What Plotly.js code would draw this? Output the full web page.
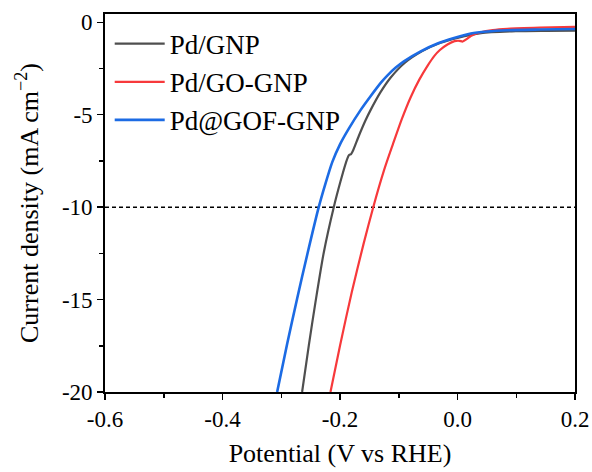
<!DOCTYPE html>
<html>
<head>
<meta charset="utf-8">
<script src="https://cdn.plot.ly/plotly-3.0.1.min.js"></script>
<style>html,body{margin:0;padding:0;background:#fff;}#chart{width:592px;height:472px;}</style>
</head>
<body>
<div id="chart"></div>
<script>
// Pd/GNP
var gnpX = [-0.2645, -0.2532, -0.2418, -0.2276, -0.2106, -0.1991, -0.19, -0.185, -0.181, -0.178, -0.168, -0.1565, -0.148, -0.131, -0.114, -0.09, -0.06, -0.03, 0.0, 0.04, 0.1, 0.15, 0.2];
var gnpY = [-20, -17.5, -15.15, -12.45, -10.0, -8.6, -7.6, -7.2, -7.12, -6.95, -6.15, -5.3, -4.75, -3.78, -3.0, -2.2, -1.56, -1.12, -0.84, -0.58, -0.48, -0.46, -0.45];
// Pd/GO-GNP
var goX = [-0.2162, -0.2, -0.18, -0.16, -0.1434, -0.125, -0.11, -0.095, -0.0797, -0.065, -0.05, -0.04, -0.03, -0.0171, -0.005, 0.003, 0.009, 0.016, 0.0226, 0.0397, 0.06, 0.085, 0.14, 0.2];
var goY = [-20, -17.5, -14.6, -12.0, -10.0, -8.0, -6.6, -5.25, -4.05, -3.1, -2.3, -1.84, -1.5, -1.2, -1.02, -1.0, -1.04, -0.9, -0.74, -0.54, -0.42, -0.35, -0.29, -0.25];
// Pd@GOF-GNP
var gofX = [-0.307, -0.29, -0.273, -0.256, -0.2362, -0.225, -0.213, -0.2, -0.185, -0.165, -0.148, -0.13, -0.1195, -0.105, -0.0912, -0.0627, -0.034, -0.0059, 0.0226, 0.05, 0.085, 0.14, 0.2];
var gofY = [-20, -17.4, -14.95, -12.6, -10.0, -8.75, -7.55, -6.6, -5.75, -4.75, -4.0, -3.25, -2.88, -2.45, -2.11, -1.57, -1.15, -0.85, -0.61, -0.5, -0.43, -0.39, -0.36];
// reference line at -10 mA cm-2
var refX = [-0.6, 0.2];
var refY = [-10, -10];

var seriesNames = ["Pd/GNP", "Pd/GO-GNP", "Pd@GOF-GNP"];
var xTickVals = [-0.6, -0.4, -0.2, 0.0, 0.2];
var xTickText = ["-0.6", "-0.4", "-0.2", "0.0", "0.2"];
var yTickVals = [0, -5, -10, -15, -20];
var yTickText = ["0", "-5", "-10", "-15", "-20"];

var font = "'Liberation Serif', 'Times New Roman', serif";

var traces = [
  {x: refX, y: refY, mode: "lines", showlegend: false, hoverinfo: "skip",
   line: {color: "#000", width: 1.5, dash: "4px,3px"}},
  {x: gnpX, y: gnpY, name: seriesNames[0], mode: "lines",
   line: {color: "#4f4f4f", width: 2.2, shape: "spline", smoothing: 0.7}},
  {x: goX, y: goY, name: seriesNames[1], mode: "lines",
   line: {color: "#f7393b", width: 2.2, shape: "spline", smoothing: 0.7}},
  {x: gofX, y: gofY, name: seriesNames[2], mode: "lines",
   line: {color: "#1c6be4", width: 2.6, shape: "spline", smoothing: 0.7}}
];

var layout = {
  width: 592, height: 472,
  margin: {l: 105, r: 17, t: 14, b: 80},
  paper_bgcolor: "#fff", plot_bgcolor: "#fff",
  font: {family: font, color: "#000", size: 22},
  showlegend: true,
  legend: {x: 0.01, y: 0.985, xanchor: "left", yanchor: "top",
           bgcolor: "rgba(0,0,0,0)", font: {family: font, size: 27, color: "#000"},
           tracegroupgap: 0, itemwidth: 50},
  xaxis: {
    range: [-0.6, 0.2], tickmode: "array", tickvals: xTickVals, ticktext: xTickText,
    ticks: "outside", ticklen: 6, tickwidth: 1.5, tickcolor: "#000",
    showline: true, linecolor: "#000", linewidth: 1.8, mirror: true,
    showgrid: false, zeroline: false,
    tickfont: {family: font, size: 23, color: "#000"},
    minor: {tickmode: "linear", tick0: -0.6, dtick: 0.1, ticks: "outside", ticklen: 4, tickwidth: 1.5, tickcolor: "#000", showgrid: false},
    title: {text: "Potential (V vs RHE)", font: {family: font, size: 26, color: "#000"}, standoff: 12}
  },
  yaxis: {
    range: [-20, 0.45], tickmode: "array", tickvals: yTickVals, ticktext: yTickText,
    ticks: "outside", ticklen: 6, tickwidth: 1.5, tickcolor: "#000",
    showline: true, linecolor: "#000", linewidth: 1.8, mirror: true,
    showgrid: false, zeroline: false,
    tickfont: {family: font, size: 23, color: "#000"},
    minor: {tickmode: "linear", tick0: 0, dtick: 2.5, ticks: "outside", ticklen: 4, tickwidth: 1.5, tickcolor: "#000", showgrid: false},
    title: {text: "Current density (mA cm<sup>\u22122</sup>)", font: {family: font, size: 26, color: "#000"}, standoff: 16}
  }
};

Plotly.newPlot("chart", traces, layout, {displayModeBar: false, staticPlot: true});
</script>
</body>
</html>
